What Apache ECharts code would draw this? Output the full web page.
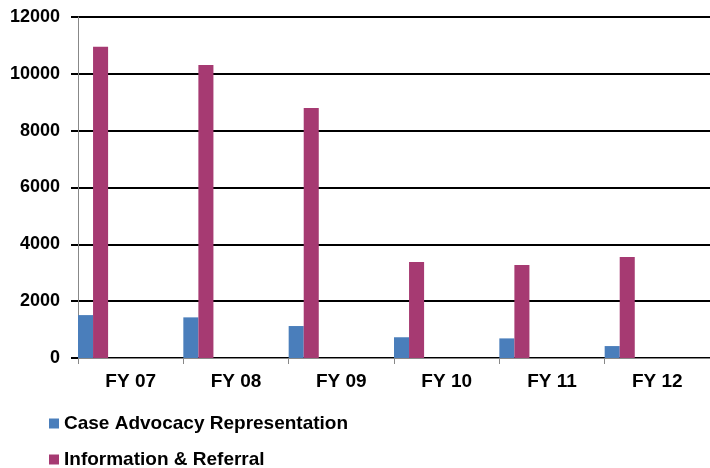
<!DOCTYPE html>
<html><head><meta charset="utf-8">
<script src="https://cdn.jsdelivr.net/npm/echarts@6/dist/echarts.min.js"></script>
<style>html,body{margin:0;padding:0;background:#fff}#c{width:710px;height:468px}</style>
</head><body><div id="c"></div>
<script>
const categories = ['FY 07','FY 08','FY 09','FY 10','FY 11','FY 12'];
const caseAdvocacy = [1510, 1430, 1125, 730, 690, 420];
const infoReferral = [10950, 10310, 8800, 3380, 3270, 3550];
const yTicks = [0, 2000, 4000, 6000, 8000, 10000, 12000];
const seriesNames = ['Case Advocacy Representation', 'Information & Referral'];

const font = '"Liberation Sans", Arial, sans-serif';
const series = [
  {name: seriesNames[0], type: 'bar', data: caseAdvocacy, itemStyle: {color: '#4A7EBB'}, barGap: '0%', barCategoryGap: '0%'},
  {name: seriesNames[1], type: 'bar', data: infoReferral, itemStyle: {color: '#A63A72'}}
];
for (let i = 0; i < 5; i++) {
  series.push({name: 'pad' + i, type: 'bar', data: categories.map(() => '-'), silent: true});
}
const legendText = {fontFamily: font, fontWeight: 'bold', fontSize: 19, color: '#000'};
const chart = echarts.init(document.getElementById('c'));
chart.setOption({
  animation: false,
  grid: {left: 78, top: 17, width: 636, bottom: 110, containLabel: false},
  legend: [
    {data: [seriesNames[0]], left: 44, top: 414, padding: [0, 5], itemWidth: 10, itemHeight: 10, icon: 'rect', itemGap: 4, textStyle: legendText},
    {data: [seriesNames[1]], left: 44, top: 450, padding: [0, 5], itemWidth: 10, itemHeight: 10, icon: 'rect', itemGap: 4, textStyle: legendText}
  ],
  xAxis: {
    type: 'category', data: categories,
    axisLine: {lineStyle: {color: '#888', width: 1}},
    axisTick: {show: true, length: 6, lineStyle: {color: '#888'}},
    axisLabel: {fontFamily: font, fontWeight: 'bold', fontSize: 19, color: '#000', margin: 14}
  },
  yAxis: {
    type: 'value', min: yTicks[0], max: yTicks[yTicks.length-1], interval: 2000,
    axisLine: {show: true, lineStyle: {color: '#888', width: 1}},
    axisTick: {show: true, length: 7, lineStyle: {color: '#000', width: 2}},
    splitLine: {lineStyle: {color: '#000', width: 2}},
    axisLabel: {fontFamily: font, fontWeight: 'bold', fontSize: 18, color: '#000', margin: 18, formatter: v => String(v)}
  },
  series: series
});
</script></body></html>
